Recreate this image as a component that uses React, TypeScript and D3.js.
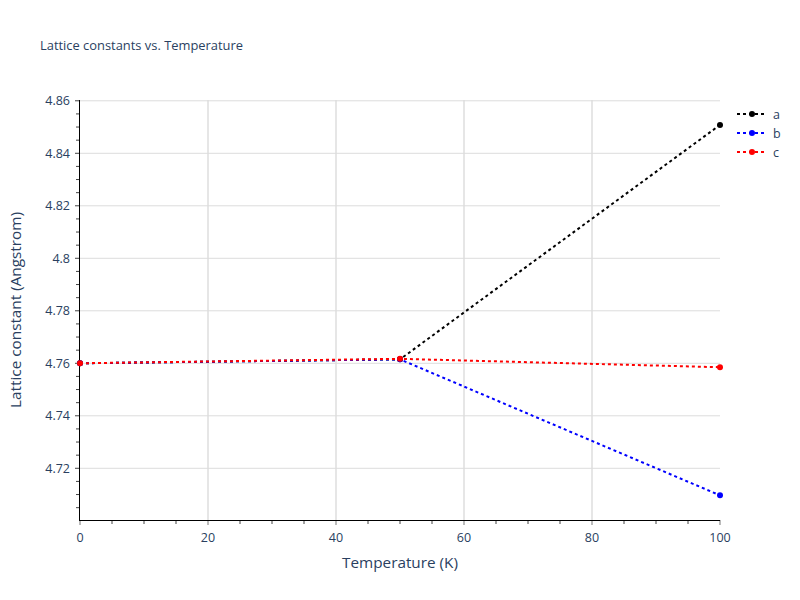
import React, { useEffect, useRef } from 'react'
import * as d3 from 'd3'

const temperatures = [0, 50, 100]
const seriesNames = ['a', 'b', 'c']
const seriesColors = ['#000000', '#0000ff', '#ff0000']
const aValues = [4.76, 4.7615, 4.8508]
const bValues = [4.76, 4.7615, 4.7097]
const cValues = [4.76, 4.7617, 4.7585]
const xTicks = [0, 20, 40, 60, 80, 100]
const yTicks = [4.72, 4.74, 4.76, 4.78, 4.8, 4.82, 4.84, 4.86]
const yTickLabels = ['4.72', '4.74', '4.76', '4.78', '4.8', '4.82', '4.84', '4.86']

const FONT = '"Open Sans", sans-serif'
const TEXT = '#2a3f5f'

export default function App() {
  const svgRef = useRef<SVGSVGElement>(null)

  useEffect(() => {
    if (!svgRef.current) return
    const width = 800
    const height = 600
    const margin = { left: 80, right: 80, top: 100, bottom: 80 }

    const svg = d3.select(svgRef.current)
    svg.selectAll('*').remove()
    svg.attr('width', width).attr('height', height)

    svg.append('rect').attr('width', width).attr('height', height).attr('fill', '#fff')

    const x = d3.scaleLinear().domain([0, 100]).range([margin.left, width - margin.right])
    const y = d3.scaleLinear().domain([4.7003, 4.8603]).range([height - margin.bottom, margin.top])

    // grid
    svg.append('g')
      .selectAll('line')
      .data(xTicks.filter((t) => t > 0 && t < 100))
      .enter()
      .append('line')
      .attr('x1', (d) => x(d))
      .attr('x2', (d) => x(d))
      .attr('y1', margin.top)
      .attr('y2', height - margin.bottom)
      .attr('stroke', '#e6e6e6')
      .attr('stroke-width', 2)

    svg.append('g')
      .selectAll('line')
      .data(yTicks)
      .enter()
      .append('line')
      .attr('x1', margin.left)
      .attr('x2', width - margin.right)
      .attr('y1', (d) => y(d))
      .attr('y2', (d) => y(d))
      .attr('stroke', '#dcdcdc')
      .attr('stroke-width', 1)

    // minor ticks
    const xMinor = d3.range(5, 100, 5).filter((t) => t % 20 !== 0)
    svg.append('g')
      .selectAll('line')
      .data(xMinor)
      .enter()
      .append('line')
      .attr('x1', (d) => x(d))
      .attr('x2', (d) => x(d))
      .attr('y1', height - margin.bottom)
      .attr('y2', height - margin.bottom + 4)
      .attr('stroke', '#444')
      .attr('stroke-width', 1)

    const yMinor = d3.range(4.705, 4.86, 0.005).filter((t) => Math.abs(Math.round(t * 50) - t * 50) > 1e-6)
    svg.append('g')
      .selectAll('line')
      .data(yMinor)
      .enter()
      .append('line')
      .attr('x1', margin.left - 4)
      .attr('x2', margin.left)
      .attr('y1', (d) => y(d))
      .attr('y2', (d) => y(d))
      .attr('stroke', '#444')
      .attr('stroke-width', 1)

    // major ticks
    svg.append('g')
      .selectAll('line')
      .data(xTicks)
      .enter()
      .append('line')
      .attr('x1', (d) => x(d))
      .attr('x2', (d) => x(d))
      .attr('y1', height - margin.bottom)
      .attr('y2', height - margin.bottom + 5)
      .attr('stroke', '#bbb')
      .attr('stroke-width', 2)

    svg.append('g')
      .selectAll('line')
      .data(yTicks)
      .enter()
      .append('line')
      .attr('x1', margin.left - 5)
      .attr('x2', margin.left)
      .attr('y1', (d) => y(d))
      .attr('y2', (d) => y(d))
      .attr('stroke', '#444')
      .attr('stroke-width', 1)

    // axis lines
    svg.append('line')
      .attr('x1', margin.left)
      .attr('x2', width - margin.right)
      .attr('y1', height - margin.bottom + 0.5)
      .attr('y2', height - margin.bottom + 0.5)
      .attr('stroke', '#000')
    svg.append('line')
      .attr('x1', margin.left - 0.5)
      .attr('x2', margin.left - 0.5)
      .attr('y1', margin.top)
      .attr('y2', height - margin.bottom + 1)
      .attr('stroke', '#000')

    // tick labels
    svg.append('g')
      .selectAll('text')
      .data(xTicks)
      .enter()
      .append('text')
      .attr('x', (d) => x(d))
      .attr('y', height - margin.bottom + 22)
      .attr('text-anchor', 'middle')
      .attr('font-family', FONT)
      .attr('font-size', 12.5)
      .attr('fill', TEXT)
      .text((d) => String(d))

    svg.append('g')
      .selectAll('text')
      .data(yTicks)
      .enter()
      .append('text')
      .attr('x', margin.left - 10)
      .attr('y', (d) => y(d) + 4.5)
      .attr('text-anchor', 'end')
      .attr('font-family', FONT)
      .attr('font-size', 12.5)
      .attr('fill', TEXT)
      .text((d, i) => yTickLabels[i])

    // titles
    svg.append('text')
      .attr('x', 40)
      .attr('y', 50)
      .attr('font-family', FONT)
      .attr('font-size', 12.9)
      .attr('fill', TEXT)
      .text('Lattice constants vs. Temperature')

    svg.append('text')
      .attr('x', (margin.left + width - margin.right) / 2)
      .attr('y', 568)
      .attr('text-anchor', 'middle')
      .attr('font-family', FONT)
      .attr('font-size', 15.3)
      .attr('fill', TEXT)
      .text('Temperature (K)')

    svg.append('text')
      .attr('transform', `translate(21,${(margin.top + height - margin.bottom) / 2}) rotate(-90)`)
      .attr('text-anchor', 'middle')
      .attr('font-family', FONT)
      .attr('font-size', 15.3)
      .attr('fill', TEXT)
      .text('Lattice constant (Angstrom)')

    // series
    const allValues = [aValues, bValues, cValues]
    const line = d3
      .line<number>()
      .x((d, i) => x(temperatures[i]))
      .y((d) => y(d))

    allValues.forEach((vals, si) => {
      const g = svg.append('g')
      g.append('path')
        .attr('d', line(vals))
        .attr('fill', 'none')
        .attr('stroke', seriesColors[si])
        .attr('stroke-width', 2)
        .attr('stroke-dasharray', '3,3')
      g.selectAll('circle')
        .data(vals)
        .enter()
        .append('circle')
        .attr('cx', (d, i) => x(temperatures[i]))
        .attr('cy', (d) => y(d))
        .attr('r', 3)
        .attr('fill', seriesColors[si])
    })

    // legend
    const legend = svg.append('g')
    seriesNames.forEach((name, i) => {
      const ly = 114 + i * 19
      legend.append('line')
        .attr('x1', 737)
        .attr('x2', 767)
        .attr('y1', ly)
        .attr('y2', ly)
        .attr('stroke', seriesColors[i])
        .attr('stroke-width', 2)
        .attr('stroke-dasharray', '3,3')
      legend.append('circle')
        .attr('cx', 752)
        .attr('cy', ly)
        .attr('r', 3)
        .attr('fill', seriesColors[i])
      legend.append('text')
        .attr('x', 773)
        .attr('y', ly + 4.5)
        .attr('font-family', FONT)
        .attr('font-size', 12.5)
        .attr('fill', TEXT)
        .text(name)
    })
  }, [])

  return <svg ref={svgRef} style={{ display: 'block', margin: '-8px' }} />
}
